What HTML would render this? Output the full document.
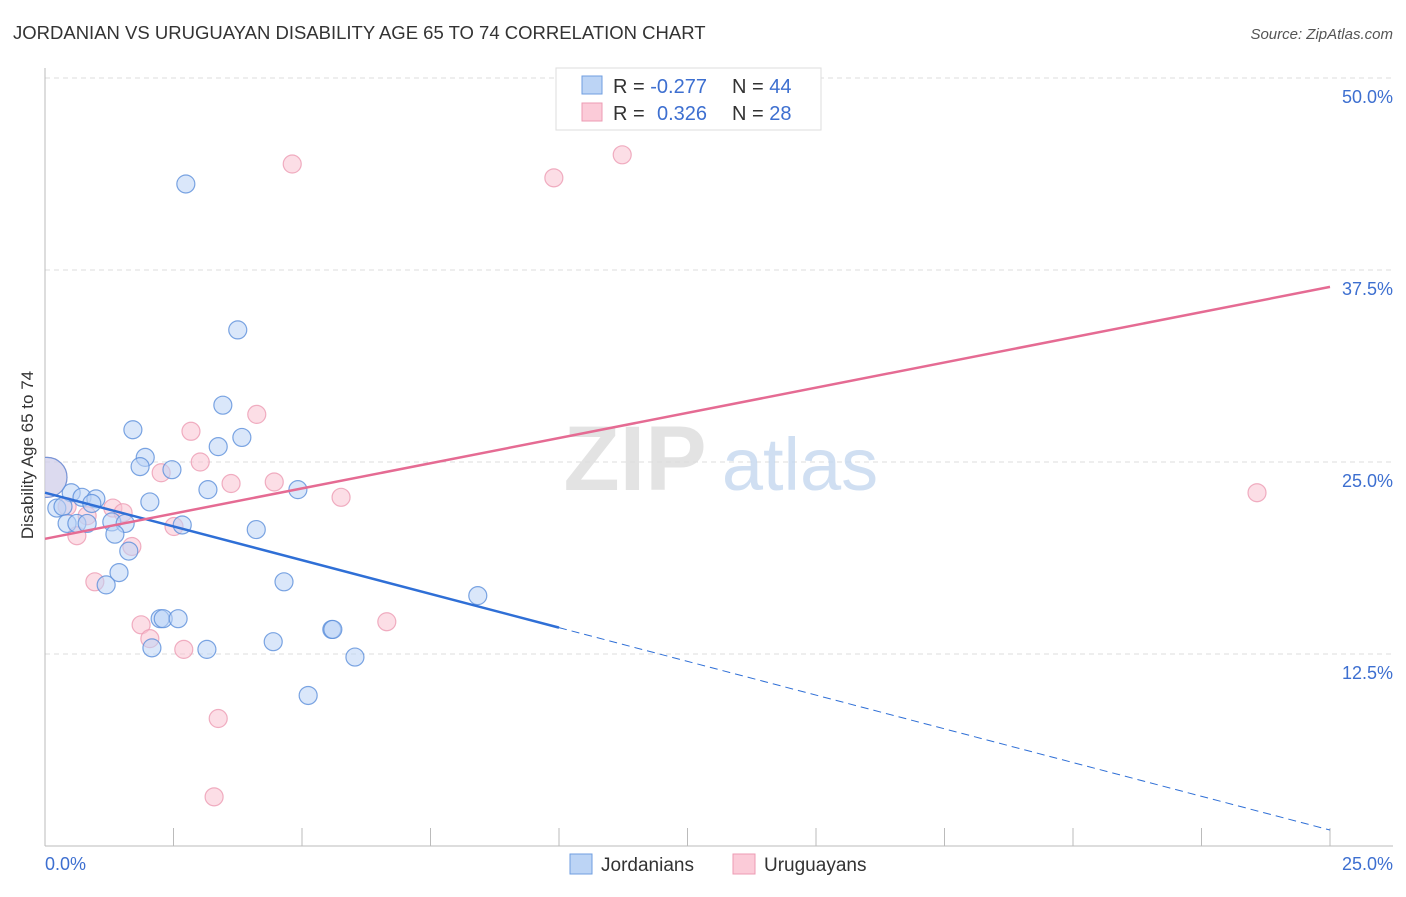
<!DOCTYPE html>
<html><head><meta charset="utf-8"><style>
body{margin:0;background:#fff;font-family:"Liberation Sans",sans-serif}
svg text{font-family:"Liberation Sans",sans-serif}
</style></head><body>
<svg id="chart" width="1406" height="892">
<defs><clipPath id="plotclip"><rect x="45" y="60" width="1360" height="786"/></clipPath></defs>
<text x="13" y="39" font-size="18.5" fill="#333">JORDANIAN VS URUGUAYAN DISABILITY AGE 65 TO 74 CORRELATION CHART</text>
<text x="1393" y="39" font-size="15" fill="#555" font-style="italic" text-anchor="end">Source: ZipAtlas.com</text>
<g id="grid"></g>
<g>
<text x="635" y="490" font-size="92" fill="#ddd" font-family="Liberation Serif" text-anchor="middle" font-weight="bold" opacity="0.8">ZIP</text>
<text x="800" y="490" font-size="74" fill="#c5d8f0" text-anchor="middle" opacity="0.8">atlas</text>
</g>
<line x1="45" y1="68" x2="45" y2="846" stroke="#bbb"/>
<line x1="45" y1="846" x2="1393" y2="846" stroke="#bbb"/>
<g id="xticks"></g>
<g id="yticks"></g>
<text transform="translate(33,455) rotate(-90)" font-size="17" fill="#333" text-anchor="middle">Disability Age 65 to 74</text>
<text x="45" y="870" font-size="18" fill="#3d6fd0">0.0%</text>
<text x="1393" y="870" font-size="18" fill="#3d6fd0" text-anchor="end">25.0%</text>
<g id="pts" clip-path="url(#plotclip)"></g>
<g id="trends"></g>
<g>
<rect x="556" y="68" width="265" height="62" fill="#fff" stroke="#ddd"/>
<rect x="582" y="76" width="20" height="18" fill="#bcd4f5" stroke="#6f9ee0"/>
<rect x="582" y="103" width="20" height="18" fill="#fbcbd8" stroke="#ec9bb3"/>
<text x="613" y="93" font-size="20" fill="#333">R = <tspan fill="#3d6fd0">-0.277</tspan><tspan x="732">N = </tspan><tspan fill="#3d6fd0">44</tspan></text>
<text x="613" y="120" font-size="20" fill="#333">R = <tspan x="657" fill="#3d6fd0">0.326</tspan><tspan x="732">N = </tspan><tspan fill="#3d6fd0">28</tspan></text>
</g>
<g>
<rect x="570" y="854" width="22" height="20" fill="#bcd4f5" stroke="#6f9ee0"/>
<text x="601" y="871" font-size="19" fill="#333">Jordanians</text>
<rect x="733" y="854" width="22" height="20" fill="#fbcbd8" stroke="#ec9bb3"/>
<text x="764" y="871" font-size="19" fill="#333">Uruguayans</text>
</g>
</svg>
<script>
const yTicks=[12.5,25.0,37.5,50.0];
const xTickVals=[0,2.5,5,7.5,10,12.5,15,17.5,20,22.5,25];
const blueX=[2.74,3.75,3.46,1.71,3.83,3.37,1.95,1.85,2.47,3.17,4.92,2.04,0.51,0.72,0.99,0.91,0.23,0.35,0.43,0.62,0.82,1.30,1.56,1.36,2.67,4.11,1.63,1.44,1.19,4.65,8.42,2.24,2.30,2.59,2.08,3.15,4.44,5.58,5.60,6.03,5.12,0];
const blueY=[43.1,33.6,28.7,27.1,26.6,26.0,25.3,24.7,24.5,23.2,23.2,22.4,23.0,22.7,22.6,22.3,22.0,22.1,21.0,21.0,21.0,21.1,21.0,20.3,20.9,20.6,19.2,17.8,17.0,17.2,16.3,14.8,14.8,14.8,12.9,12.8,13.3,14.1,14.1,12.3,9.8,24.0];
const pinkX=[4.81,9.90,11.23,4.12,2.84,3.02,2.26,3.62,4.46,5.76,23.58,2.51,1.32,1.52,0.82,0.43,0.62,1.69,0.97,1.87,2.04,2.70,6.65,3.37,3.29,0];
const pinkY=[44.4,43.5,45.0,28.1,27.0,25.0,24.3,23.6,23.7,22.7,23.0,20.8,22.0,21.7,21.5,22.1,20.2,19.5,17.2,14.4,13.5,12.8,14.6,8.3,3.2,24.0];
const blueTrend=[23.0,1.04];
const pinkTrend=[20.0,36.4];
const blueSolidEnd=10;
const NS="http://www.w3.org/2000/svg";
const sx=v=>45+v/25*1285;
const sy=v=>846-v/50*768;
function mk(t,a,p){const e=document.createElementNS(NS,t);for(const k in a)e.setAttribute(k,a[k]);p.appendChild(e);return e;}
const grid=document.getElementById('grid'),yt=document.getElementById('yticks'),xt=document.getElementById('xticks');
yTicks.forEach(v=>{
 const l=mk('line',{x1:45,x2:1393,y1:sy(v),y2:sy(v),stroke:'#ddd','stroke-dasharray':'5,4'},grid);
 
 
 const t=mk('text',{x:1393,y:sy(v)+25,'font-size':18,fill:'#3d6fd0','text-anchor':'end'},yt);
 t.textContent=v.toFixed(1)+'%';
 
 
});
xTickVals.forEach(v=>{
 const l=mk('line',{x1:sx(v),x2:sx(v),y1:828,y2:846,stroke:'#bbb'},xt);
 
 
});
const pts=document.getElementById('pts');
function dots(X,Y,fill,stroke,name){
 X.forEach((x,i)=>{
  const big=(x===0);
  const c=mk('circle',{cx:sx(x)+(big?2:0),cy:sy(Y[i]),r:big?20:9,fill:fill,'fill-opacity':big?0.5:0.55,stroke:stroke,'stroke-width':1.2,'stroke-opacity':0.8},pts);
  
  
 });
}
dots(pinkX,pinkY,'#f9c3d2','#ec9bb3','uruguayan-point');
dots(blueX,blueY,'#bcd4f5','#5b8fdb','jordanian-point');
const tr=document.getElementById('trends');
const by=x=>blueTrend[0]+(blueTrend[1]-blueTrend[0])*x/25;
let l=mk('line',{x1:sx(0),y1:sy(by(0)),x2:sx(blueSolidEnd),y2:sy(by(blueSolidEnd)),stroke:'#2f6fd6','stroke-width':2.5},tr);


l=mk('line',{x1:sx(blueSolidEnd),y1:sy(by(blueSolidEnd)),x2:sx(25),y2:sy(by(25)),stroke:'#2f6fd6','stroke-width':1,'stroke-dasharray':'8,5'},tr);


l=mk('line',{x1:sx(0),y1:sy(pinkTrend[0]),x2:sx(25),y2:sy(pinkTrend[1]),stroke:'#e56b93','stroke-width':2.5},tr);


</script>
</body></html>
